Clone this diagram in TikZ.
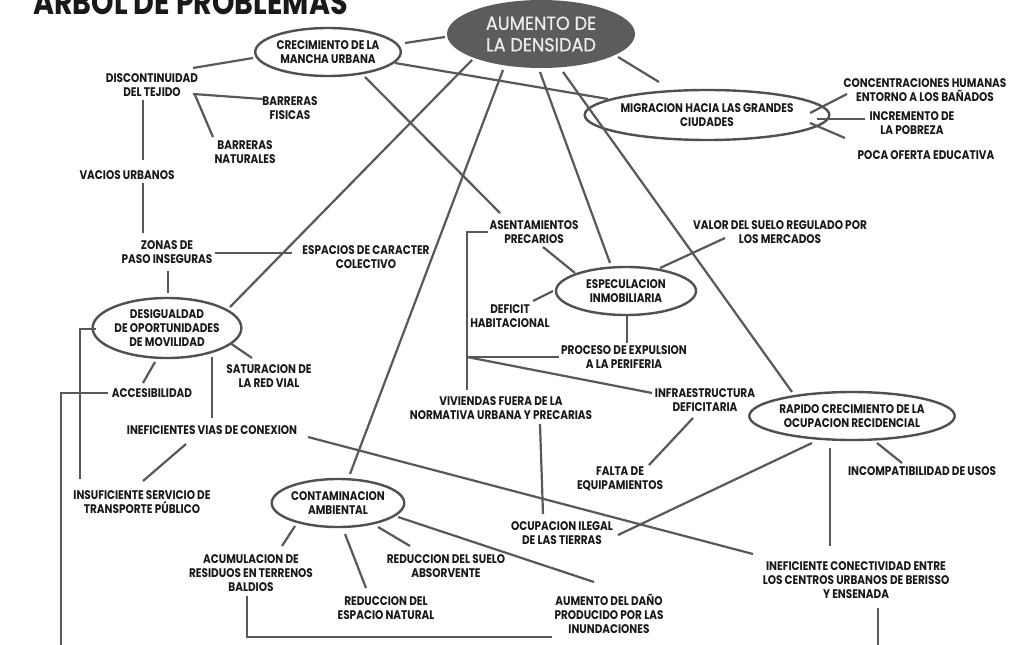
\documentclass[tikz,border=0pt]{standalone}
\usepackage{fontspec}
\setmainfont{Poppins}[FakeStretch=0.84]
\newfontfamily\bigfont{Poppins}[FakeStretch=0.93,FakeBold=0.6]
\newfontfamily\titlefont{Poppins}[FakeStretch=0.84]
\usetikzlibrary{shapes.geometric,calc}
\definecolor{linecol}{RGB}{88,88,88}
\definecolor{ovalcol}{RGB}{80,80,80}
\definecolor{txtcol}{RGB}{25,25,25}
\definecolor{aumfill}{RGB}{92,92,92}
\definecolor{aumtext}{RGB}{236,236,236}
\newcommand\lblfont{\bfseries\fontsize{12.5}{13.6}\selectfont}
\begin{document}
\begin{tikzpicture}[x=1pt,y=-1pt,
  conn/.style={draw=linecol, line width=2.2pt},
  lbl/.style={font=\lblfont, text=txtcol, align=center, inner sep=0pt},
  oval/.style={ellipse, draw=ovalcol, line width=2.4pt, inner sep=0pt, font=\lblfont, text=txtcol, align=center}]
\useasboundingbox (0,0) rectangle (1031,645);
\clip (0,0) rectangle (1031,645);
\fill[white] (0,0) rectangle (1031,645);
% title
\node[anchor=base west, inner sep=0pt, text=txtcol, font=\titlefont\bfseries\fontsize{34}{36}\selectfont] (title) at (33,14) {ARBOL DE PROBLEMAS};
% ovals
\node[ellipse, fill=aumfill, inner sep=0pt, minimum width=188pt, minimum height=68pt, text=aumtext, align=center, font=\bigfont\fontsize{19}{21.5}\selectfont] (aum) at (541,34) {AUMENTO DE\\LA DENSIDAD};
\node[oval, minimum width=140pt, minimum height=48pt] (crec) at (328,52) {CRECIMIENTO DE LA\\MANCHA URBANA};
\node[oval, minimum width=200pt, minimum height=50pt] (mig) at (707,115) {MIGRACION HACIA LAS GRANDES\\CIUDADES};
\node[oval, minimum width=130pt, minimum height=60pt] (desig) at (167,328) {DESIGUALDAD\\DE OPORTUNIDADES\\DE MOVILIDAD};
\node[oval, minimum width=140pt, minimum height=48pt] (espec) at (626,291) {ESPECULACION\\INMOBILIARIA};
\node[oval, minimum width=194pt, minimum height=48pt] (rapido) at (852,416) {RAPIDO CRECIMIENTO DE LA\\OCUPACION RECIDENCIAL};
\node[oval, minimum width=130pt, minimum height=48pt] (contam) at (338,503) {CONTAMINACION\\AMBIENTAL};
% labels
\node[lbl] (disc) at (152,85) {DISCONTINUIDAD\\DEL TEJIDO};
\node[lbl] (bfis) at (290,108) {BARRERAS\\FISICAS};
\node[lbl] (bnat) at (245,152) {BARRERAS\\NATURALES};
\node[lbl] (vacios) at (127,175) {VACIOS URBANOS};
\node[lbl] (zonas) at (167,252) {ZONAS DE\\PASO INSEGURAS};
\node[lbl] (espacios) at (366,257) {ESPACIOS DE CARACTER\\COLECTIVO};
\node[lbl] (sat) at (269,376) {SATURACION DE\\LA RED VIAL};
\node[lbl] (acces) at (152,393) {ACCESIBILIDAD};
\node[lbl] (inefv) at (212,430) {INEFICIENTES VIAS DE CONEXION};
\node[lbl] (insuf) at (142,502) {INSUFICIENTE SERVICIO DE\\TRANSPORTE PÚBLICO};
\node[lbl] (asent) at (534,232) {ASENTAMIENTOS\\PRECARIOS};
\node[lbl] (valor) at (780,232) {VALOR DEL SUELO REGULADO POR\\LOS MERCADOS};
\node[lbl] (deficit) at (510,316) {DEFICIT\\HABITACIONAL};
\node[lbl] (proceso) at (624,357) {PROCESO DE EXPULSION\\A LA PERIFERIA};
\node[lbl] (viv) at (501,408) {VIVIENDAS FUERA DE LA\\NORMATIVA URBANA Y PRECARIAS};
\node[lbl] (infra) at (705,400) {INFRAESTRUCTURA\\DEFICITARIA};
\node[lbl] (falta) at (620,479) {FALTA DE\\EQUIPAMIENTOS};
\node[lbl] (ocup) at (562,533) {OCUPACION ILEGAL\\DE LAS TIERRAS};
\node[lbl] (incomp) at (922,471) {INCOMPATIBILIDAD DE USOS};
\node[lbl] (inefc) at (856,580) {INEFICIENTE CONECTIVIDAD ENTRE\\LOS CENTROS URBANOS DE BERISSO\\Y ENSENADA};
\node[lbl] (acum) at (251,573) {ACUMULACION DE\\RESIDUOS EN TERRENOS\\BALDIOS};
\node[lbl] (redesp) at (386,608) {REDUCCION DEL\\ESPACIO NATURAL};
\node[lbl] (redsuelo) at (446,566) {REDUCCION DEL SUELO\\ABSORVENTE};
\node[lbl] (dano) at (609,614) {AUMENTO DEL DAÑO\\PRODUCIDO POR LAS\\INUNDACIONES};
\node[lbl] (conc) at (925,90) {CONCENTRACIONES HUMANAS\\ENTORNO A LOS BAÑADOS};
\node[lbl] (incr) at (912,123) {INCREMENTO DE\\LA POBREZA};
\node[lbl] (poca) at (926,155) {POCA OFERTA EDUCATIVA};
% free ends and junction
\coordinate (accbot) at (61,650);
\coordinate (cbot) at (878,650);
\coordinate (junc) at ($(viv)+(-34,-51)$);
% connectors
\draw[conn] ($(crec)+(77,-9)$) -- ($(aum)+(-96,3)$);
\draw[conn] ($(crec)+(67,11)$) -- ($(mig)+(-99,-16)$);
\draw[conn] ($(crec)+(37,25)$) -- ($(asent)+(-34,-19)$);
\draw[conn] ($(crec)+(-75,6)$) -- ($(disc)+(41,-17)$);
\draw[conn] ($(disc)+(41,9)$) -- ($(bfis)+(-27,-9)$);
\draw[conn] ($(disc)+(43,10)$) -- ($(bnat)+(-32,-15)$);
\draw[conn] ($(disc)+(-9,15)$) -- ($(vacios)+(16,-15)$);
\draw[conn] ($(vacios)+(16,8)$) -- ($(zonas)+(-24,-19)$);
\draw[conn] ($(zonas)+(48,1)$) -- ($(espacios)+(-74,-4)$);
\draw[conn] ($(zonas)+(1,19)$) -- ($(desig)+(1,-35)$);
\draw[conn] ($(aum)+(-69,26)$) -- ($(desig)+(63,-21)$);
\draw[conn] ($(desig)+(63,15)$) -- ($(sat)+(-17,-18)$);
\draw[conn] ($(desig)+(-12,34)$) -- ($(acces)+(-9,-10)$);
\draw[conn] ($(desig)+(45,29)$) -- ($(inefv)+(0,-12)$);
\draw[conn] ($(desig)+(-71,1)$) -| ($(insuf)+(-62,-23)$);
\draw[conn] ($(acces)+(-44,0)$) -| (accbot);
\draw[conn] ($(inefv)+(-26,14)$) -- ($(insuf)+(1,-21)$);
\draw[conn] ($(inefv)+(96,7)$) -- ($(inefc)+(-103,-26)$);
\draw[conn] ($(aum)+(-38,36)$) -- ($(contam)+(12,-29)$);
\draw[conn] ($(contam)+(-43,23)$) -- ($(acum)+(31,-27)$);
\draw[conn] ($(contam)+(7,31)$) -- ($(redesp)+(-20,-20)$);
\draw[conn] ($(contam)+(40,24)$) -- ($(redsuelo)+(-36,-20)$);
\draw[conn] ($(contam)+(60,14)$) -- ($(dano)+(-15,-32)$);
\draw[conn] ($(acum)+(-4,23)$) |- ($(dano)+(-57,23)$);
\draw[conn] ($(aum)+(-1,38)$) -- ($(espec)+(-16,-28)$);
\draw[conn] ($(aum)+(22,38)$) -- ($(rapido)+(-60,-24)$);
\draw[conn] ($(aum)+(77,23)$) -- ($(mig)+(-48,-33)$);
\draw[conn] ($(mig)+(103,-2)$) -- ($(conc)+(-78,4)$);
\draw[conn] ($(mig)+(110,4)$) -- ($(incr)+(-47,-4)$);
\draw[conn] ($(mig)+(103,8)$) -- ($(poca)+(-81,-17)$);
\draw[conn] ($(asent)+(9,15)$) -- ($(espec)+(-51,-18)$);
\draw[conn] ($(espec)+(-73,0)$) -- ($(deficit)+(23,-15)$);
\draw[conn] ($(espec)+(1,24)$) -- ($(proceso)+(3,-14)$);
\draw[conn] ($(espec)+(34,-23)$) -- ($(valor)+(-55,6)$);
\draw[conn] ($(asent)+(-46,0)$) -| ($(viv)+(-34,-18)$);
\draw[conn] (junc) -- ($(proceso)+(-65,0)$);
\draw[conn] (junc) -- ($(infra)+(-53,-7)$);
\draw[conn] ($(viv)+(39,16)$) -- ($(ocup)+(-19,-19)$);
\draw[conn] ($(infra)+(-12,18)$) -- ($(falta)+(29,-14)$);
\draw[conn] ($(rapido)+(-40,27)$) -- ($(ocup)+(56,2)$);
\draw[conn] ($(rapido)+(-22,32)$) -- ($(inefc)+(-26,-34)$);
\draw[conn] ($(rapido)+(25,27)$) -- ($(incomp)+(-20,-8)$);
\draw[conn] ($(inefc)+(22,28)$) -- (cbot);
\end{tikzpicture}
\end{document}
